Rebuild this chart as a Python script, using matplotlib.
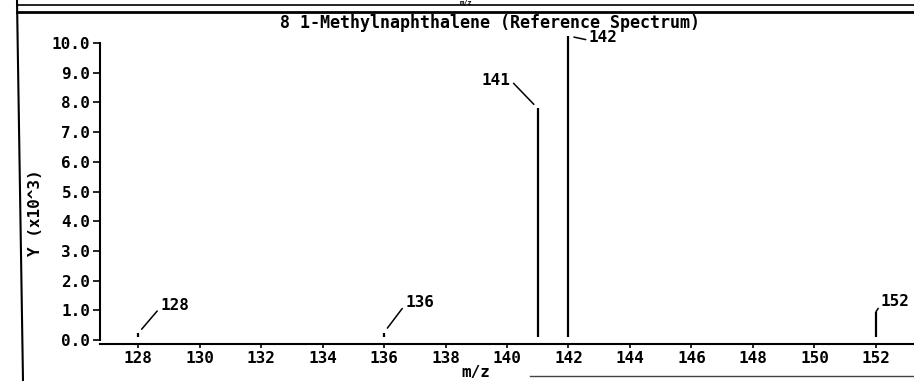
import matplotlib
matplotlib.use('Agg')
import matplotlib.pyplot as plt
from matplotlib.lines import Line2D

# peaks of the reference spectrum (y in units of 10^3)
mz = [128, 136, 141, 142, 152]
intensity = [0.22, 0.25, 7.8, 10.24, 0.95]
peak_labels = ['128', '136', '141', '142', '152']
# label offsets in pixels from the top of each peak
label_dx = [22, 21, -27, 20, 5]
label_dy = [28, 30, 28, -2, 10]
label_ha = ['left', 'left', 'right', 'left', 'left']

xticks = list(range(128, 153, 2))
yticks = [0, 1, 2, 3, 4, 5, 6, 7, 8, 9, 10]
ytick_labels = ['%.1f' % v for v in yticks]

title = '8 1-Methylnaphthalene (Reference Spectrum)'

plt.rcParams['font.family'] = ['DejaVu Sans Mono']
plt.rcParams['font.weight'] = 'bold'
fs = 11.5

W, H = 914, 381
fig = plt.figure(figsize=(W / 100, H / 100), dpi=100)

# axes placed by pixel box: left 100, right 914, bottom 344, top 30
ax = fig.add_axes([100 / W, (H - 344) / H, 814 / W, (344 - 30) / H])
ax.set_xlim(126.764, 153.236)
ax.set_ylim(-0.135, 10.44)

ax.vlines(mz, 0.1, intensity, color='black', lw=1.6)

for m, v, lab, dx, dy, ha in zip(mz, intensity, peak_labels, label_dx, label_dy, label_ha):
    rel = (1, 0.5) if ha == 'right' else (0, 0.35)
    ax.annotate(lab, xy=(m, v), xytext=(dx, dy), textcoords='offset pixels',
                ha=ha, va='center', fontsize=fs,
                arrowprops=dict(arrowstyle='-', lw=1.1, color='black',
                                shrinkA=0, shrinkB=4, relpos=rel))

ax.set_xticks(xticks)
ax.set_xticklabels([str(t) for t in xticks], fontsize=fs)
ax.set_yticks(yticks)
ax.set_yticklabels(ytick_labels, fontsize=fs)
ax.tick_params(axis='x', direction='out', length=3, width=1.2, pad=2)
ax.tick_params(axis='y', direction='out', length=5, width=1.2, pad=2)

for s in ['top', 'right']:
    ax.spines[s].set_visible(False)
ax.spines['left'].set_bounds(0, 10)
ax.spines['left'].set_linewidth(1.5)
ax.spines['bottom'].set_linewidth(1.5)

# axis titles and title placed as figure text
fig.text(35 / W, 1 - 213 / H, 'Y (x10^3)', rotation=90, ha='center', va='center', fontsize=fs)
fig.text(476 / W, 1 - 373 / H, 'm/z', ha='center', va='center', fontsize=fs)
fig.text(490 / W, 1 - 23 / H, title, ha='center', va='center', fontsize=fs + 0.5)
# label of the panel above, mostly cut off in the scan
fig.text(466 / W, 1, 'm/z', ha='center', va='top', fontsize=5)

# frame lines of the scanned page
fig.add_artist(Line2D([17 / W, 1], [1 - 4.5 / H, 1 - 4.5 / H], color='black', lw=1.2))
fig.add_artist(Line2D([17 / W, 1], [1 - 12 / H, 1 - 12 / H], color='black', lw=2.0))
fig.add_artist(Line2D([17 / W, 23 / W], [1, 0], color='black', lw=1.5))
fig.add_artist(Line2D([530 / W, 1], [1 - 376 / H, 1 - 376 / H], color='#444444', lw=1.0))

fig.savefig('out.png', dpi=100)
